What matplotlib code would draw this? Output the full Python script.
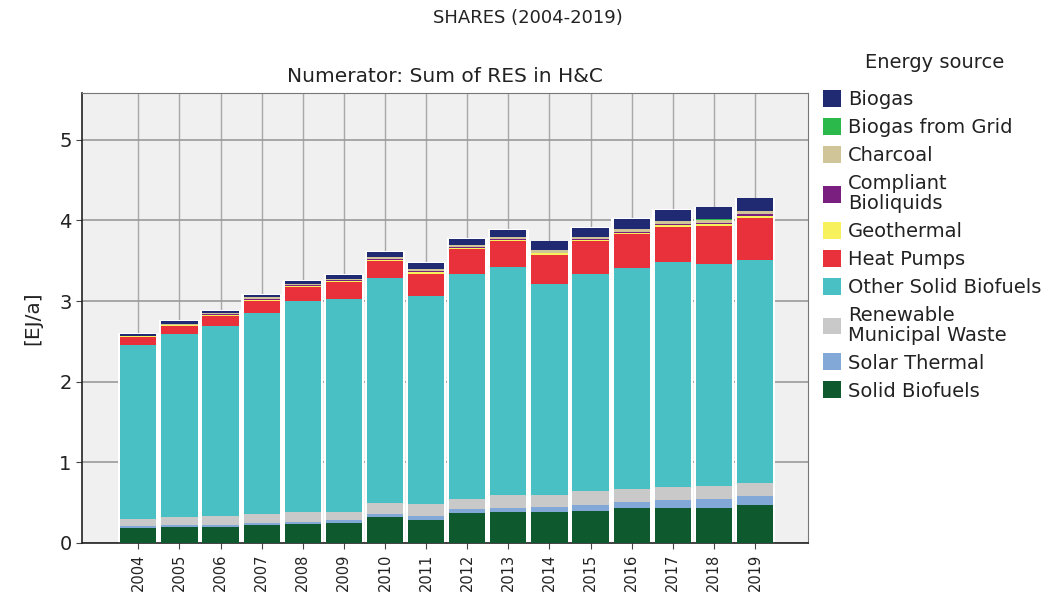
import matplotlib
matplotlib.use("Agg")
import matplotlib.pyplot as plt
from matplotlib.patches import Patch
import numpy as np

plt.rcParams['font.family'] = ['DejaVu Sans']

years = ["2004", "2005", "2006", "2007", "2008", "2009", "2010", "2011",
         "2012", "2013", "2014", "2015", "2016", "2017", "2018", "2019"]

# Stack order bottom -> top
solid_biofuels = [0.19, 0.20, 0.20, 0.22, 0.23, 0.245, 0.32, 0.29, 0.37, 0.38, 0.38, 0.40, 0.43, 0.44, 0.44, 0.47]
solar_thermal = [0.02, 0.02, 0.025, 0.03, 0.035, 0.04, 0.045, 0.05, 0.055, 0.06, 0.065, 0.075, 0.08, 0.09, 0.10, 0.11]
renewable_msw = [0.09, 0.10, 0.105, 0.11, 0.115, 0.105, 0.125, 0.14, 0.125, 0.15, 0.155, 0.165, 0.16, 0.17, 0.17, 0.16]
other_solid_biofuels = [2.16, 2.27, 2.36, 2.49, 2.62, 2.64, 2.80, 2.58, 2.79, 2.83, 2.61, 2.70, 2.74, 2.78, 2.75, 2.77]
heat_pumps = [0.10, 0.10, 0.13, 0.15, 0.18, 0.21, 0.21, 0.28, 0.30, 0.32, 0.36, 0.40, 0.42, 0.44, 0.47, 0.52]
geothermal = [0.005, 0.01, 0.01, 0.015, 0.01, 0.01, 0.015, 0.02, 0.015, 0.015, 0.02, 0.02, 0.02, 0.02, 0.025, 0.025]
compliant_bioliquids = [0.002, 0.005, 0.005, 0.01, 0.005, 0.01, 0.01, 0.01, 0.01, 0.01, 0.01, 0.01, 0.01, 0.015, 0.015, 0.02]
charcoal = [0.003, 0.015, 0.015, 0.02, 0.015, 0.015, 0.025, 0.03, 0.025, 0.025, 0.03, 0.03, 0.03, 0.035, 0.04, 0.045]
biogas_from_grid = [0.0, 0.0, 0.0, 0.0, 0.0, 0.0, 0.0, 0.0, 0.0, 0.0, 0.0, 0.0, 0.002, 0.002, 0.002, 0.002]
biogas = [0.02, 0.03, 0.03, 0.035, 0.04, 0.045, 0.06, 0.07, 0.08, 0.09, 0.11, 0.11, 0.13, 0.14, 0.15, 0.15]

series = [
    ("Solid Biofuels", solid_biofuels, "#0e5a2e"),
    ("Solar Thermal", solar_thermal, "#82a8d8"),
    ("Renewable\nMunicipal Waste", renewable_msw, "#c9c9c9"),
    ("Other Solid Biofuels", other_solid_biofuels, "#48c0c4"),
    ("Heat Pumps", heat_pumps, "#e8313a"),
    ("Geothermal", geothermal, "#f7f15c"),
    ("Compliant\nBioliquids", compliant_bioliquids, "#7a1f80"),
    ("Charcoal", charcoal, "#cfc598"),
    ("Biogas from Grid", biogas_from_grid, "#2bb94b"),
    ("Biogas", biogas, "#202a72"),
]

fig = plt.figure(figsize=(10.52, 6.0), dpi=100)
ax = fig.add_axes([82/1052, 1 - 543/600, (808-82)/1052, (543-93)/600])
ax.set_facecolor("#f0f0f0")

x = np.arange(len(years))
totals = np.sum([s[1] for s in series], axis=0)
# white halo behind bars to give the light gaps between columns
ax.bar(x, totals + 0.01, width=0.99, color="white", edgecolor="none", zorder=2)
bottom = np.zeros(len(years))
for name, vals, col in series:
    vals = np.array(vals)
    ax.bar(x, vals, width=0.88, bottom=bottom, color=col, edgecolor="none", zorder=3)
    bottom += vals

ax.set_xlim(-1.37, 16.29)
ax.set_ylim(0, 5.58)
ax.set_yticks([0, 1, 2, 3, 4, 5])
ax.set_yticklabels(["0", "1", "2", "3", "4", "5"], fontsize=14, color="#222222")
ax.set_xticks(x)
ax.set_xticklabels(years, rotation=90, fontsize=10.5, color="#222222")
ax.set_axisbelow(True)
ax.grid(axis="y", color="#9a9a9a", linewidth=1.2, zorder=0)
ax.grid(axis="x", color="#a8a8a8", linewidth=1.0, zorder=0)
ax.tick_params(axis="both", length=4, color="#444444")
for sp in ["top", "right"]:
    ax.spines[sp].set_color("#777777")
for sp in ["left", "bottom"]:
    ax.spines[sp].set_color("#222222")
    ax.spines[sp].set_linewidth(1.2)

ax.set_ylabel("[EJ/a]", fontsize=14.5, color="#222222", labelpad=12)
ax.set_title("Numerator: Sum of RES in H&C", fontsize=14.5, color="#222222", pad=8)
fig.text(0.5015, 1 - 18/600, "SHARES (2004-2019)", ha="center", va="center",
         fontsize=13, color="#222222")

fig.text(935/1052, 1 - 62/600, "Energy source", ha="center", va="center",
         fontsize=14, color="#222222")
handles = [Patch(facecolor=col, edgecolor="none", label=name) for name, vals, col in series[::-1]]
leg = fig.legend(handles=handles, loc="upper left", bbox_to_anchor=(823/1052, 1 - 90/600),
                 frameon=False, fontsize=14, borderpad=0,
                 handlelength=0.95, handleheight=0.95, handletextpad=0.35,
                 labelspacing=0.46, borderaxespad=0)
for t in leg.get_texts():
    t.set_linespacing(1.05)
    t.set_color("#222222")

fig.savefig("out.png", dpi=100, facecolor="white")
